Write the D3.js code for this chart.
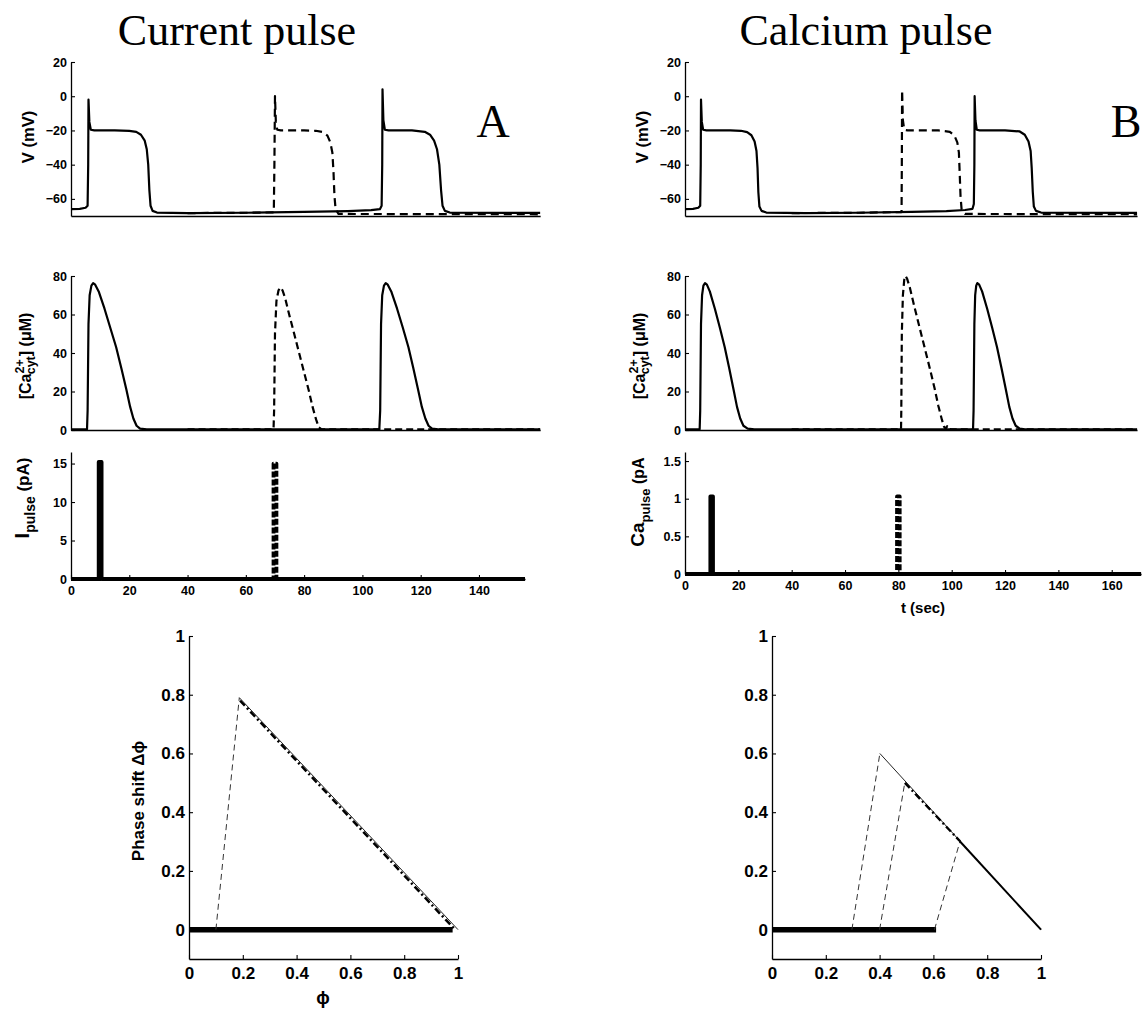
<!DOCTYPE html>
<html>
<head>
<meta charset="utf-8">
<script src="https://cdn.jsdelivr.net/npm/d3@7"></script>
<style>
  body { margin: 0; background: #fff; }
  svg { display: block; }
</style>
</head>
<body>
<script>
// ---- data: panel A (current pulse) ----
const vSolidA = [[0,-66],[3,-65.8],[5,-65.2],[5.7,-64],[5.9,-40],[6.0,-2],[6.3,-15],[6.8,-19.6],[8,-20],[15,-20],[20,-20.2],
  [22.4,-20.8],[24,-22.5],[25.3,-26],[26,-31],[26.5,-40],[26.9,-55],[27.3,-64],[28,-67],[29.5,-68],[40,-68.3],[60,-68.1],
  [80,-67.6],[95,-67.1],[103,-66.6],[106,-66],[106.6,-64],[106.8,-40],[106.9,4],[107.2,-14],[107.7,-19.6],[109,-20],
  [117,-20],[121.4,-20.8],[123.2,-22.5],[124.6,-26],[125.6,-31],[126.4,-40],[127,-55],[127.5,-64],[128.3,-67],[130,-68],[161,-68.2]];
const vDashA = [[40,-68.3],[60,-68.1],[69.6,-67.9],[69.8,-40],[70,0],[70.3,-15],[70.8,-19.6],[72,-20],[80,-20],[84,-20.2],
  [86.5,-21],[88,-23],[89,-27],[89.7,-33],[90.1,-45],[90.4,-58],[90.8,-66],[91.8,-68.8],[161,-69]];
const caSolidA = [[0,0.4],[5.5,0.4],[5.7,10],[6.0,55],[6.4,70],[7.0,75],[7.6,76.3],[8.3,75.5],[9.5,72],[11.5,63],[13.5,53],
  [15.5,43],[17.3,32],[19,21],[20.3,12],[21.4,6],[22.5,2.2],[23.7,0.7],[26,0.3],[40,0.3],[105.8,0.3],[106.1,10],[106.4,55],
  [106.8,70],[107.4,75],[108,76.3],[108.7,75.5],[109.9,72],[111.9,63],[113.9,53],[115.8,43],[117.5,32],[119.1,21],[120.4,12],
  [121.6,6],[122.7,2.2],[123.9,0.7],[126,0.3],[161,0.3]];
const caDashA = [[40,0.3],[69.5,0.3],[69.7,10],[70,50],[70.5,67],[71.2,72.5],[71.9,74],[72.6,72.5],[73.5,68.5],[74.7,61],
  [76.5,50.5],[78.2,40.5],[79.9,30.5],[81.6,20.5],[82.9,12],[84.1,5.5],[85,1.5],[86,0.3],[161,0.3]];
const pulseSolidA = [[0,0],[9.5,0],[9.5,15.2],[10.5,15.2],[10.5,0],[155.8,0]];
const pulseDashA = [[0,0],[69.5,0],[69.5,15],[70.5,15],[70.5,0],[155.8,0]];

// ---- data: panel B (calcium pulse) ----
const vSolidB = [[0,-66],[3,-65.8],[5,-65.2],[5.7,-64],[5.9,-40],[6.0,-2],[6.3,-15],[6.8,-19.6],[8,-20],[17,-20],[21,-20.2],
  [23.3,-21],[24.9,-22.8],[26.1,-26.5],[26.8,-32],[27.2,-42],[27.5,-56],[27.9,-64.5],[28.7,-67],[30.5,-68],[45,-68.3],[65,-68.1],
  [85,-67.6],[98,-67.1],[105,-66.5],[107.8,-65.8],[108.3,-63],[108.5,-40],[108.6,0],[108.9,-14],[109.4,-19.6],[110.5,-20],
  [120,-20],[125.5,-20.6],[127.4,-22.5],[128.8,-26.5],[129.6,-32],[130,-42],[130.4,-56],[130.8,-64.5],[131.6,-67],[133.5,-68],[169.5,-68.2]];
const vDashB = [[40,-68.3],[65,-68.1],[81.2,-67.7],[81.3,-40],[81.4,3.5],[81.7,-14],[82.2,-19.6],[83.5,-20],[95,-20],[99.3,-20.8],
  [101,-23],[102.1,-27],[102.7,-33],[103,-45],[103.3,-58],[103.7,-66],[105,-68.8],[169.5,-69]];
const caSolidB = [[0,0.4],[5.5,0.4],[5.7,10],[6.0,55],[6.4,70],[6.9,75],[7.5,76.3],[8.2,75.5],[9.3,72],[11.2,63],[13.1,53],
  [14.9,43],[16.6,32],[18.2,21],[19.5,12],[20.7,6],[21.9,2.2],[23.5,0.7],[26,0.3],[108,0.3],[108.2,10],[108.5,55],[108.8,70],
  [109.2,75],[109.6,76.3],[110.3,75.5],[111.4,72],[113.3,63],[115.2,53],[117,43],[118.7,32],[120.3,21],[121.6,12],[122.8,6],
  [124,2.2],[125.5,0.7],[127.5,0.3],[169.5,0.3]];
const caDashB = [[40,0.3],[81,0.3],[81.1,10],[81.3,50],[81.7,70],[82.2,78],[82.7,80],[83.3,78.5],[84.3,74],[86.1,63.5],[88,53],
  [89.9,42.5],[91.8,32],[93.6,21.5],[95,12.5],[96.3,5.5],[97.1,1.8],[97.8,0.6],[98.3,2],[98.8,0.5],[100,0.3],[169.5,0.3]];
const pulseSolidB = [[0,0],[9.5,0],[9.5,1.03],[10.5,1.03],[10.5,0],[171,0]];
const pulseDashB = [[0,0],[79.5,0],[79.5,1.03],[80.5,1.03],[80.5,0],[171,0]];

// ---- data: phase response curves ----
const phaseBaseA = [[0,0],[0.98,0]];
const phaseJumpA = [[0.1,0],[0.187,0.79]];
const phaseLineA = [[0.187,0.79],[1,0]];
const phaseDotA = [[0.19,0.78],[0.985,0.004]];

const phaseBaseB = [[0,0],[0.61,0]];
const phaseJumpsB = [[[0.297,0],[0.401,0.6]], [[0.4,0],[0.494,0.502]], [[0.604,0],[0.699,0.301]]];
const phaseLineB = [[0.401,0.6],[1,0]];
const phaseDotB = [[0.494,0.5],[0.7,0.3]];
const phaseThickB = [[0.699,0.3],[1,0]];

// tick values
const vTicks = [-60, -40, -20, 0, 20];
const caTicks = [0, 20, 40, 60, 80];
const iTicks = [0, 5, 10, 15];
const capTicks = [0, 0.5, 1, 1.5];
const tTicksA = [0, 20, 40, 60, 80, 100, 120, 140];
const tTicksB = [0, 20, 40, 60, 80, 100, 120, 140, 160];
const phaseTicks = [0, 0.2, 0.4, 0.6, 0.8, 1];

const FONT = '"Liberation Sans", Arial, Helvetica, sans-serif';
const SERIF = '"Liberation Serif", "Times New Roman", serif';

const svg = d3.select("body").append("svg")
    .attr("width", 1144)
    .attr("height", 1011);

svg.append("rect").attr("width", 1144).attr("height", 1011).attr("fill", "#fff");

function drawPanel(p) {
    const g = svg.append("g");
    const x = d3.scaleLinear().domain(p.xDomain).range(p.xRange);
    const y = d3.scaleLinear().domain(p.yDomain).range(p.yRange);

    const line = d3.line().x(d => x(d[0])).y(d => y(d[1]));

    p.series.forEach(s => {
        g.append("path")
            .attr("d", line(s.data))
            .attr("fill", "none")
            .attr("stroke", s.color || "#000")
            .attr("stroke-width", s.width)
            .attr("stroke-dasharray", s.dash || null)
            .attr("stroke-linejoin", "round")
            .attr("stroke-linecap", "butt");
    });

    const yAxis = d3.axisLeft(y)
        .tickValues(p.yTicks)
        .tickSizeInner(-4)
        .tickSizeOuter(0)
        .tickPadding(4)
        .tickFormat(p.yFormat || d3.format("d"));
    const ga = g.append("g").attr("transform", `translate(${p.xRange[0]},0)`).call(yAxis);

    const xAxis = d3.axisBottom(x)
        .tickValues(p.xTicks || [])
        .tickSizeInner(-4)
        .tickSizeOuter(0)
        .tickPadding(p.xPad || 7)
        .tickFormat(p.xFormat || d3.format("d"));
    const gb = g.append("g").attr("transform", `translate(0,${p.yRange[0]})`).call(xAxis);

    [ga, gb].forEach(a => {
        a.attr("font-family", FONT).attr("font-size", p.fontSize).attr("font-weight", "bold");
        a.select(".domain").attr("stroke", "#000").attr("stroke-width", 1.3);
        a.selectAll(".tick line").attr("stroke", "#000").attr("stroke-width", 1.1);
        a.selectAll(".tick text").attr("fill", "#000");
    });
    return g;
}

const solid = (data) => ({ data, width: 2.2 });
const dashed = (data) => ({ data, width: 2.2, dash: "8,5" });

// pixel scales for the two columns (top and bottom rows share them)
const kA = 2.914, x0A = 71;
const kB = 2.667, x0B = 685;

// V panels
drawPanel({ xDomain: [0, 161], xRange: [x0A, x0A + 161 * kA], yDomain: [-70, 20], yRange: [216, 62],
    yTicks: vTicks, fontSize: 12.5, series: [solid(vSolidA), dashed(vDashA)] });
drawPanel({ xDomain: [0, 169.5], xRange: [x0B, x0B + 169.5 * kB], yDomain: [-70, 20], yRange: [216, 62],
    yTicks: vTicks, fontSize: 12.5, series: [solid(vSolidB), dashed(vDashB)] });

// Ca panels
drawPanel({ xDomain: [0, 161], xRange: [x0A, x0A + 161 * kA], yDomain: [0, 80], yRange: [430, 276],
    yTicks: caTicks, fontSize: 12.5, series: [solid(caSolidA), { data: caDashA, width: 2.2, dash: "7,4" }] });
drawPanel({ xDomain: [0, 169.5], xRange: [x0B, x0B + 169.5 * kB], yDomain: [0, 80], yRange: [430, 276],
    yTicks: caTicks, fontSize: 12.5, series: [solid(caSolidB), { data: caDashB, width: 2.2, dash: "7,4" }] });

// pulse panels
drawPanel({ xDomain: [0, 155.8], xRange: [x0A, x0A + 155.8 * kA], yDomain: [0, 16.5], yRange: [579, 452],
    yTicks: iTicks, xTicks: tTicksA, fontSize: 12.5,
    series: [{ data: pulseDashA, width: 3.8, dash: "6,2" }, { data: pulseSolidA, width: 3.8 }] });
drawPanel({ xDomain: [0, 171], xRange: [x0B, x0B + 171 * kB], yDomain: [0, 1.62], yRange: [574, 452],
    yTicks: capTicks, xTicks: tTicksB, fontSize: 12.5, yFormat: d => d3.format("~g")(d),
    series: [{ data: pulseDashB, width: 3.8, dash: "6,2" }, { data: pulseSolidB, width: 3.8 }] });

// phase response panels
const phaseFmt = d => d === 0 || d === 1 ? String(d) : d3.format(".1f")(d);
const thin = (data) => ({ data, width: 1, color: "#222" });
const thinDash = (data) => ({ data, width: 1, dash: "6,4", color: "#333" });

drawPanel({ xDomain: [0, 1], xRange: [189, 458], yDomain: [-0.1, 1], yRange: [959, 636],
    yTicks: phaseTicks, xTicks: phaseTicks, yFormat: phaseFmt, xFormat: phaseFmt, fontSize: 17, xPad: 8,
    series: [
        { data: phaseBaseA, width: 5.5 },
        thinDash(phaseJumpA),
        { data: phaseDotA, width: 2.6, dash: "7,3,2,3" },
        thin(phaseLineA)
    ] });
drawPanel({ xDomain: [0, 1], xRange: [772, 1041], yDomain: [-0.1, 1], yRange: [959, 636],
    yTicks: phaseTicks, xTicks: phaseTicks, yFormat: phaseFmt, xFormat: phaseFmt, fontSize: 17, xPad: 8,
    series: [
        { data: phaseBaseB, width: 5.5 },
        ...phaseJumpsB.map(thinDash),
        thin(phaseLineB),
        { data: phaseDotB, width: 2.4, dash: "7,3,2,3" },
        { data: phaseThickB, width: 2 }
    ] });

// ---- titles and labels ----
function title(txt, x, y, size) {
    svg.append("text").attr("x", x).attr("y", y)
        .attr("text-anchor", "middle")
        .attr("font-family", SERIF).attr("font-size", size)
        .text(txt);
}
title("Current pulse", 237, 45, 44);
title("Calcium pulse", 866, 45, 44);
title("A", 493, 137, 46);
title("B", 1126, 137, 46);

function yLabel(x, y, size) {
    return svg.append("text")
        .attr("transform", `translate(${x},${y}) rotate(-90)`)
        .attr("text-anchor", "middle")
        .attr("font-family", FONT).attr("font-size", size).attr("font-weight", "bold");
}

yLabel(34, 137, 16.5).text("V (mV)");
yLabel(648, 137, 16.5).text("V (mV)");

[[31, 356], [645, 356]].forEach(([x, y]) => {
    const t = yLabel(x, y, 16);
    t.append("tspan").text("[Ca");
    t.append("tspan").attr("dy", -7).attr("font-size", 12.5).text("2+");
    t.append("tspan").attr("dx", -15).attr("dy", 11).attr("font-size", 12.5).text("cyt");
    t.append("tspan").attr("dy", -4).text("] (\u03bcM)");
});

{
    const t = yLabel(29, 498, 17);
    t.append("tspan").attr("font-size", 20).text("I");
    t.append("tspan").attr("dy", 6).attr("font-size", 14).text("pulse");
    t.append("tspan").attr("dy", -6).text(" (pA)");
}
{
    const t = yLabel(644, 502, 16);
    t.append("tspan").attr("font-size", 19).text("Ca");
    t.append("tspan").attr("dy", 6).attr("font-size", 13).text("pulse");
    t.append("tspan").attr("dy", -6).text(" (pA");
}

svg.append("text").attr("x", 923).attr("y", 613)
    .attr("text-anchor", "middle")
    .attr("font-family", FONT).attr("font-size", 15).attr("font-weight", "bold")
    .text("t (sec)");

yLabel(144, 801, 17).text("Phase shift \u0394\u03d5");

svg.append("text").attr("x", 323).attr("y", 1004)
    .attr("text-anchor", "middle")
    .attr("font-family", FONT).attr("font-size", 18).attr("font-weight", "bold")
    .text("\u03d5");
</script>
</body>
</html>
